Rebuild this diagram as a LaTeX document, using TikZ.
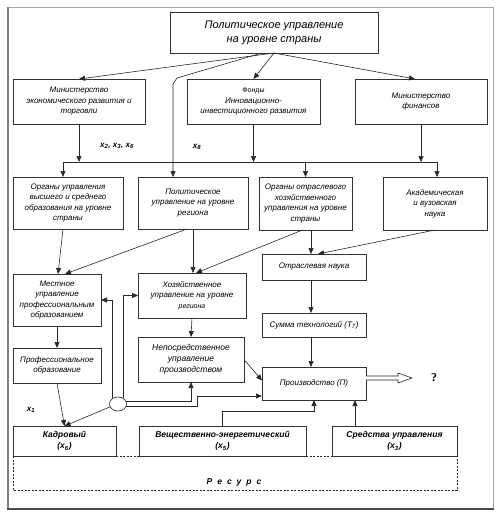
\documentclass[tikz,border=0pt]{standalone}
\usepackage{fontspec}
\setmainfont{Liberation Sans}
\newfontfamily\serifq{Liberation Serif}
\usetikzlibrary{arrows.meta,shapes.geometric}
\begin{document}
\begin{tikzpicture}[x=1pt,y=-1pt,
 box/.style={draw=black!80, line width=0.6pt, fill=white, align=center, inner sep=1pt, outer sep=0pt, anchor=north west, font=\fontsize{8}{10.5}\selectfont\itshape},
 bbox/.style={box, font=\fontsize{8.5}{11}\selectfont\bfseries\itshape},
 arr/.style={draw=black!85, line width=0.6pt, -{Triangle[length=6pt,width=5pt]}},
 ln/.style={draw=black!85, line width=0.6pt},
 lab/.style={font=\fontsize{8}{9}\selectfont\bfseries\itshape, inner sep=0pt}]
\useasboundingbox (0,0) rectangle (499,520);
% frame
\draw[gray!70, line width=0.8pt] (8,7) rectangle (493,509);
\draw[gray, line width=1.8pt] (8,7) -- (8,509);
\draw[black!70, line width=2.5pt] (7,509) -- (494,509);

% nodes
\node[box, minimum width=208pt, minimum height=41pt, font=\fontsize{11}{14}\selectfont\itshape] (top) at (170,12) {Политическое управление\\на уровне страны};
\node[box, minimum width=132pt, minimum height=45pt] (mecon) at (13,79) {Министерство\\экономического развития и\\торговли};
\node[box, minimum width=133pt, minimum height=45pt] (fond) at (187,79) {{\fontsize{7}{9}\selectfont\upshape Фонды}\\Инновационно-\\инвестиционного развития};
\node[box, minimum width=132pt, minimum height=45pt] (minfin) at (355,79) {Министерство\\финансов};

\node[box, minimum width=110pt, minimum height=52pt] (org1) at (13,177) {Органы управления\\высшего и среднего\\образования на уровне\\страны};
\node[box, minimum width=110pt, minimum height=52pt] (polreg) at (138,177) {Политическое\\управление на уровне\\региона};
\node[box, minimum width=93pt, minimum height=53pt] (otr) at (259,177) {Органы отраслевого\\хозяйственного\\управления  на уровне\\страны};
\node[box, minimum width=104pt, minimum height=53pt] (akad) at (383,177) {Академическая\\и вузовская\\наука};

\node[box, minimum width=104pt, minimum height=26pt] (otrn) at (262,254) {Отраслевая наука};
\node[box, minimum width=88pt, minimum height=52pt] (mest) at (13,274) {Местное\\управление\\профессиональным\\образованием};
\node[box, minimum width=108pt, minimum height=45pt] (hoz) at (138,273) {Хозяйственное\\управление на уровне\\{\fontsize{7}{9}\selectfont региона}};
\node[box, minimum width=104pt, minimum height=24pt] (summ) at (262,313) {Сумма технологий (Т\textsubscript{7})};
\node[box, minimum width=106pt, minimum height=45pt, font=\fontsize{8.5}{11}\selectfont\itshape] (nep) at (138,337) {Непосредственное\\управление\\производством};
\node[box, minimum width=88pt, minimum height=35pt] (prof) at (13,348) {Профессиональное\\образование};
\node[box, minimum width=104pt, minimum height=33pt] (prod) at (262,367) {Производство (П)};

\node[bbox, minimum width=103pt, minimum height=30pt] (kadr) at (13,426) {Кадровый\\(x\textsubscript{6})};
\node[bbox, minimum width=167pt, minimum height=30pt] (vesh) at (139,426) {Вещественно-энергетический\\(x\textsubscript{5})};
\node[bbox, minimum width=125pt, minimum height=30pt] (sred) at (332,426) {Средства управления\\(x\textsubscript{3})};

\node[draw=black!85, line width=0.6pt, ellipse, minimum width=17pt, minimum height=14pt, inner sep=0pt] (junc) at (118,404) {};

% labels
\node[lab] (lx236) at (117,146) {x\textsubscript{2}, x\textsubscript{3}, x\textsubscript{6}};
\node[lab] (lx8) at (197,147) {x\textsubscript{8}};
\node[lab] (lx1) at (31,410) {x\textsubscript{1}};
\node[font=\fontsize{8.5}{10}\selectfont\bfseries\itshape] (res) at (234,482) {Р\hspace{5pt}е\hspace{5pt}с\hspace{5pt}у\hspace{5pt}р\hspace{5pt}с};
\node[font=\serifq\fontsize{12}{12}\selectfont\bfseries] (q) at (434,378) {?};

% top arrows
\draw[arr] (top.south) -- (mecon.north);
\draw[arr] (top.south) -- (fond.north);
\draw[arr] (top.south) -- ([xshift=-6pt]minfin.north);
\coordinate (x8a) at (177,78);
\coordinate (x8b) at (173,84);
\draw[arr] ([xshift=-12pt]top.south) -- (x8a) -- (x8b) -- (x8b |- polreg.north);

% bus
\coordinate (busL) at (63,162);
\coordinate (busR) at (437,162);
\draw[ln] (busL) -- (busR);
\draw[arr] (mecon.south) -- (mecon.south |- busL);
\draw[arr] (fond.south) -- (fond.south |- busL);
\draw[arr] (minfin.south) -- (minfin.south |- busL);
\draw[arr] (busL) -- (busL |- org1.north);
\draw[arr] (otr.north |- busL) -- (otr.north);
\draw[arr] (busR) -- (busR |- akad.north);

% row 3 -> row 4
\draw[arr] ([xshift=-5pt]org1.south) -- ([xshift=1pt]mest.north);
\draw[arr] ([xshift=-6pt]polreg.south) -- ([xshift=8pt]mest.north);
\draw[arr] (polreg.south) -- (polreg.south |- hoz.north);
\draw[arr] ([xshift=-3pt]otr.south) -- ([xshift=4pt]hoz.north);
\coordinate (on) at ([xshift=-3pt]otrn.north);
\draw[arr] (on |- otr.south) -- (on);
\draw[arr] (akad.south) -- ([xshift=4pt]otrn.north);
\draw[arr] ([xshift=-3pt]otrn.south) -- ([xshift=-3pt]summ.north);
\draw[arr] ([xshift=-3pt]summ.south) -- ([xshift=-3pt]prod.north);

\draw[arr] (mest.south) -- (prof.north);
\draw[arr] (hoz.south) -- (nep.north);
\draw[arr] (nep.east) -- ([yshift=3pt]prod.west);

% junction
\draw[arr] (junc.135) |- (mest.east);
\draw[arr] (junc.45) |- (hoz.west);
\draw[arr] (junc.15) -| (nep.south);
\draw[arr] (junc.-15) -- ++(71,0) |- ([yshift=4pt]prod.south west);
\draw[arr] (junc.200) -- (kadr.north);
\draw[arr] (prof.south) -- (kadr.north);

% resources to production
\draw[arr] (vesh.north) -- ++(0,-15) -| (prod.south);
\coordinate (pse) at ([xshift=-11pt]prod.south east);
\draw[arr] (pse |- sred.north) -- (pse);

% output double arrow
\draw[ln, fill=white] ([yshift=7.5pt]prod.east) -- ++(32,0) -- ++(0,-3) -- ++(14,5) -- ++(-14,5) -- ++(0,-3) -- ++(-32,0);

% resource dashed frame
\draw[ln, dash pattern=on 2pt off 1.5pt] (kadr.south east) -- (vesh.south west);
\draw[ln, dash pattern=on 2pt off 1.5pt] (vesh.south east) -- (sred.south west);
\draw[ln, dash pattern=on 2pt off 1.5pt] (kadr.south west) -- ++(0,34) -| (sred.south east);
\end{tikzpicture}
\end{document}
